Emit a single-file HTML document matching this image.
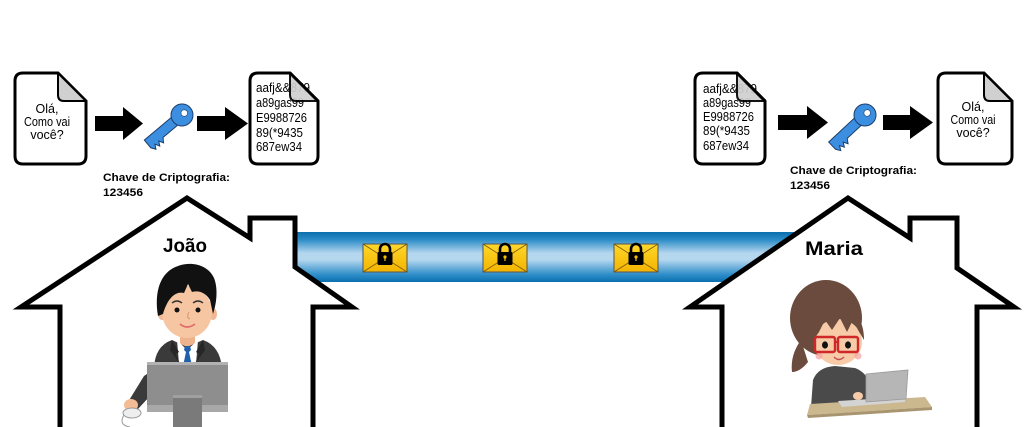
<!DOCTYPE html>
<html><head><meta charset="utf-8">
<style>
html,body{margin:0;padding:0;background:#fff;}
svg{display:block;}
text{font-family:"Liberation Sans",sans-serif;}
</style></head>
<body>
<svg width="1024" height="427" viewBox="0 0 1024 427" xmlns="http://www.w3.org/2000/svg">
<defs>
<linearGradient id="pipe" x1="0" y1="0" x2="0" y2="1">
<stop offset="0" stop-color="#0b6fae"/>
<stop offset="0.15" stop-color="#2b8bc6"/>
<stop offset="0.42" stop-color="#b3d6ee"/>
<stop offset="0.55" stop-color="#b6d8ef"/>
<stop offset="0.85" stop-color="#2f8ec8"/>
<stop offset="1" stop-color="#0a70b0"/>
</linearGradient>
<linearGradient id="env" x1="0" y1="0" x2="0" y2="1">
<stop offset="0" stop-color="#ffd72a"/>
<stop offset="1" stop-color="#f3b400"/>
</linearGradient>
</defs>

<!-- pipe -->
<rect x="290" y="232" width="520" height="50" fill="url(#pipe)"/>

<!-- houses -->
<path d="M60,427 L60,307 L21,307 L187,198 L250,238 L250,218 L295,218 L295,267 L352,307 L313,307 L313,427" fill="#fff" stroke="#000" stroke-width="5" stroke-linejoin="miter" stroke-miterlimit="5"/>
<path d="M722,427 L722,307 L690,307 L848,198 L910,238 L910,218 L957,218 L957,268 L1014,307 L977,307 L977,427" fill="#fff" stroke="#000" stroke-width="5" stroke-linejoin="miter" stroke-miterlimit="5"/>

<!-- envelopes -->
<g id="e1">
<rect x="363" y="244" width="44" height="28" fill="url(#env)" stroke="#555" stroke-width="1"/>
<path d="M363,244 L407,272 M407,244 L363,272" stroke="#7a5a00" stroke-width="0.8"/>
<path d="M380,253 L380,249 A5,5 0 0 1 390,249 L390,253" fill="none" stroke="#000" stroke-width="2.6"/>
<rect x="377.5" y="252" width="15" height="13" rx="1.5" fill="#000"/>
<circle cx="385" cy="257" r="1.6" fill="#f3c000"/>
<rect x="384.4" y="257" width="1.2" height="4" fill="#f3c000"/>
</g>
<use href="#e1" x="120" y="0"/>
<use href="#e1" x="251" y="0"/>

<!-- arrows -->
<polygon points="95,116 123,116 123,107 143,123.5 123,140 123,131 95,131" fill="#000"/>
<polygon points="197,116 225,116 225,107 248,123.5 225,140 225,131 197,131" fill="#000"/>
<polygon points="778,115 807,115 807,106 828,122.5 807,139 807,130 778,130" fill="#000"/>
<polygon points="883,115 910,115 910,106 933,122.5 910,139 910,130 883,130" fill="#000"/>

<!-- keys -->
<g transform="translate(182,115) rotate(140)">
<path d="M6,5 L45,5 L45,-5 L42,-9.5 L39.5,-5 L37,-9.5 L34.5,-5 L32,-9.5 L29,-5 L6,-5 Z" fill="#3b8ee0" stroke="#1d3e6b" stroke-width="1"/>
<circle cx="0" cy="0" r="11" fill="#3b8ee0" stroke="#1d3e6b" stroke-width="1"/>
<circle cx="-3" cy="0" r="3.3" fill="#fff" stroke="#1d3e6b" stroke-width="0.6"/>
</g>
<g transform="translate(865,115) rotate(137)">
<path d="M6,5 L45,5 L45,-5 L42,-9.5 L39.5,-5 L37,-9.5 L34.5,-5 L32,-9.5 L29,-5 L6,-5 Z" fill="#3b8ee0" stroke="#1d3e6b" stroke-width="1"/>
<circle cx="0" cy="0" r="11" fill="#3b8ee0" stroke="#1d3e6b" stroke-width="1"/>
<circle cx="-3" cy="0" r="3.3" fill="#fff" stroke="#1d3e6b" stroke-width="0.6"/>
</g>

<!-- doc1 -->
<path d="M23,73 L58,73 L86,101 L86,156 Q86,164 78,164 L23,164 Q15,164 15,156 L15,81 Q15,73 23,73 Z" fill="#fff" stroke="#000" stroke-width="3"/>
<path d="M58,73 L58,95 Q58,101 64,101 L86,101 Z" fill="#d0d0d0" stroke="#000" stroke-width="2" stroke-linejoin="round"/>
<text x="47" y="113" font-size="12.5" text-anchor="middle">Olá,</text>
<text x="47" y="126" font-size="12.5" text-anchor="middle" textLength="46" lengthAdjust="spacingAndGlyphs">Como vai</text>
<text x="47" y="139" font-size="12.5" text-anchor="middle">você?</text>

<!-- doc2 -->
<path d="M258,73 L290,73 L318,101 L318,156 Q318,164 310,164 L258,164 Q250,164 250,156 L250,81 Q250,73 258,73 Z" fill="#fff" stroke="#000" stroke-width="3"/>
<text x="256" y="92" font-size="12.5" textLength="54" lengthAdjust="spacingAndGlyphs">aafj&amp;&amp;879</text>
<text x="256" y="107" font-size="12.5" textLength="48" lengthAdjust="spacingAndGlyphs">a89gas99</text>
<text x="256" y="122" font-size="12.5" textLength="51" lengthAdjust="spacingAndGlyphs">E9988726</text>
<text x="256" y="137" font-size="12.5" textLength="47" lengthAdjust="spacingAndGlyphs">89(*9435</text>
<text x="256" y="151" font-size="12.5" textLength="46" lengthAdjust="spacingAndGlyphs">687ew34</text>
<path d="M290,73 L290,95 Q290,101 296,101 L318,101 Z" fill="#d0d0d0" stroke="#000" stroke-width="2" stroke-linejoin="round" opacity="0.92"/>
<path d="M290,73 L318,101" stroke="#000" stroke-width="3"/>

<!-- doc3 -->
<path d="M703,73 L737,73 L765,101 L765,156 Q765,164 757,164 L703,164 Q695,164 695,156 L695,81 Q695,73 703,73 Z" fill="#fff" stroke="#000" stroke-width="3"/>
<text x="703" y="93" font-size="12.5" textLength="54" lengthAdjust="spacingAndGlyphs">aafj&amp;&amp;879</text>
<text x="703" y="107" font-size="12.5" textLength="48" lengthAdjust="spacingAndGlyphs">a89gas99</text>
<text x="703" y="121" font-size="12.5" textLength="51" lengthAdjust="spacingAndGlyphs">E9988726</text>
<text x="703" y="135" font-size="12.5" textLength="47" lengthAdjust="spacingAndGlyphs">89(*9435</text>
<text x="703" y="150" font-size="12.5" textLength="46" lengthAdjust="spacingAndGlyphs">687ew34</text>
<path d="M737,73 L737,95 Q737,101 743,101 L765,101 Z" fill="#d0d0d0" stroke="#000" stroke-width="2" stroke-linejoin="round" opacity="0.92"/>
<path d="M737,73 L765,101" stroke="#000" stroke-width="3"/>

<!-- doc4 -->
<path d="M946,73 L984,73 L1012,101 L1012,156 Q1012,164 1004,164 L946,164 Q938,164 938,156 L938,81 Q938,73 946,73 Z" fill="#fff" stroke="#000" stroke-width="3"/>
<path d="M984,73 L984,95 Q984,101 990,101 L1012,101 Z" fill="#d0d0d0" stroke="#000" stroke-width="2" stroke-linejoin="round"/>
<text x="973" y="111" font-size="12.5" text-anchor="middle">Olá,</text>
<text x="973" y="124" font-size="12.5" text-anchor="middle" textLength="45" lengthAdjust="spacingAndGlyphs">Como vai</text>
<text x="973" y="137" font-size="12.5" text-anchor="middle">você?</text>

<!-- labels -->
<text x="103" y="181" font-size="11" font-weight="bold" textLength="127" lengthAdjust="spacingAndGlyphs">Chave de Criptografia:</text>
<text x="103" y="196" font-size="11" font-weight="bold" textLength="40" lengthAdjust="spacingAndGlyphs">123456</text>
<text x="790" y="174" font-size="11" font-weight="bold" textLength="127" lengthAdjust="spacingAndGlyphs">Chave de Criptografia:</text>
<text x="790" y="189" font-size="11" font-weight="bold" textLength="40" lengthAdjust="spacingAndGlyphs">123456</text>
<text x="163" y="252" font-size="19" font-weight="bold" textLength="44" lengthAdjust="spacingAndGlyphs">João</text>
<text x="805" y="255" font-size="19" font-weight="bold" textLength="58" lengthAdjust="spacingAndGlyphs">Maria</text>

<!-- João -->
<g>
<rect x="180" y="330" width="15" height="16" fill="#eeb28c"/>
<path d="M154,368 Q155,346 172,340 L187,347 L203,340 Q220,346 222,368 Z" fill="#3a3a3a"/>
<path d="M177,340 L187,350 L198,340 L196,364 L179,364 Z" fill="#fff"/>
<path d="M185,346 L190,346 L191,350 L189,352 L192,366 L183,366 L186,352 L184,350 Z" fill="#1f5fad"/>
<path d="M172,340 L179,352 L176,354 L180,364 L170,350 Z" fill="#262626"/>
<path d="M203,340 L196,352 L199,354 L195,364 L205,350 Z" fill="#262626"/>
<ellipse cx="162" cy="314" rx="4" ry="6" fill="#f1b893"/>
<ellipse cx="213" cy="314" rx="4" ry="6" fill="#f1b893"/>
<ellipse cx="187" cy="312" rx="25" ry="26" fill="#f6c6a2"/>
<path d="M158,316 C154,292 160,272 178,266 C192,261 208,265 214,278 C218,288 217,302 213,314 L210,300 C206,293 199,290 192,292 L188,284 L184,293 C176,291 168,297 163,314 Z" fill="#111"/>
<path d="M172,303 Q177,299 182,303 M193,303 Q198,299 203,303" fill="none" stroke="#333" stroke-width="1.4"/>
<circle cx="177" cy="310" r="2.5" fill="#111"/>
<circle cx="198" cy="310" r="2.5" fill="#111"/>
<path d="M189,312 Q186,318 190,319" fill="none" stroke="#d8956f" stroke-width="1"/>
<path d="M180,324 Q187,330 195,324" fill="none" stroke="#e06a6a" stroke-width="1.6"/>
<path d="M150,372 L150,396 L138,409 L128,402 L144,376 Z" fill="#3a3a3a"/>
<ellipse cx="131" cy="405" rx="7" ry="6" fill="#f3bc95"/>
<ellipse cx="132" cy="413" rx="9" ry="5" fill="#eee" stroke="#999" stroke-width="1"/>
<path d="M124,415 Q118,425 130,427" fill="none" stroke="#999" stroke-width="1"/>
<rect x="147" y="362" width="81" height="50" fill="#8e8e8e"/>
<rect x="147" y="362" width="81" height="3" fill="#b2b2b2"/>
<rect x="147" y="405" width="81" height="7" fill="#a8a8a8"/>
<rect x="173" y="395" width="29" height="32" fill="#7a7a7a"/>
<rect x="173" y="395" width="29" height="3" fill="#a0a0a0"/>
</g>

<!-- Maria -->
<g>
<path d="M801,340 Q790,355 792,372 Q800,372 808,362 Z" fill="#6b4b3d"/>
<ellipse cx="826" cy="318" rx="36" ry="38" fill="#6b4b3d"/>
<path d="M811,407 L813,380 Q818,367 835,366 L855,368 Q866,372 871,385 L871,407 Z" fill="#4a4a4a"/>
<ellipse cx="838" cy="342" rx="24" ry="23" fill="#f7cba8"/>
<path d="M812,342 Q812,310 838,307 Q864,310 864,340 L858,330 L853,320 L847,332 L840,318 L832,330 L825,320 L819,332 Z" fill="#6b4b3d"/>
<circle cx="819" cy="356" r="3.5" fill="#f4a0a0" opacity="0.7"/>
<circle cx="858" cy="356" r="3.5" fill="#f4a0a0" opacity="0.7"/>
<ellipse cx="825" cy="345" rx="3" ry="3.6" fill="#111"/>
<ellipse cx="848" cy="345" rx="3" ry="3.6" fill="#111"/>
<rect x="815" y="337" width="20" height="15" rx="2" fill="none" stroke="#d02828" stroke-width="2.4"/>
<rect x="838" y="337" width="20" height="15" rx="2" fill="none" stroke="#d02828" stroke-width="2.4"/>
<path d="M835,342 L838,342" stroke="#d02828" stroke-width="2"/>
<path d="M834,357 Q839,362 844,357" fill="none" stroke="#c05050" stroke-width="1.4"/>
<polygon points="810,404 925,397 932,407 807,415" fill="#cbb88f"/>
<polygon points="807,415 932,407 932,410 808,418" fill="#a89570"/>
<polygon points="838,401 905,397 905,402 842,407" fill="#d4d4d4"/>
<polygon points="866,374 908,370 906,399 866,402" fill="#b6b6b6" stroke="#999" stroke-width="0.8"/>
<path d="M845,380 L858,393 L852,398 L840,388 Z" fill="#4a4a4a"/>
<ellipse cx="858" cy="396" rx="5" ry="4" fill="#f7cba8"/>
</g>
</svg>
</body></html>
